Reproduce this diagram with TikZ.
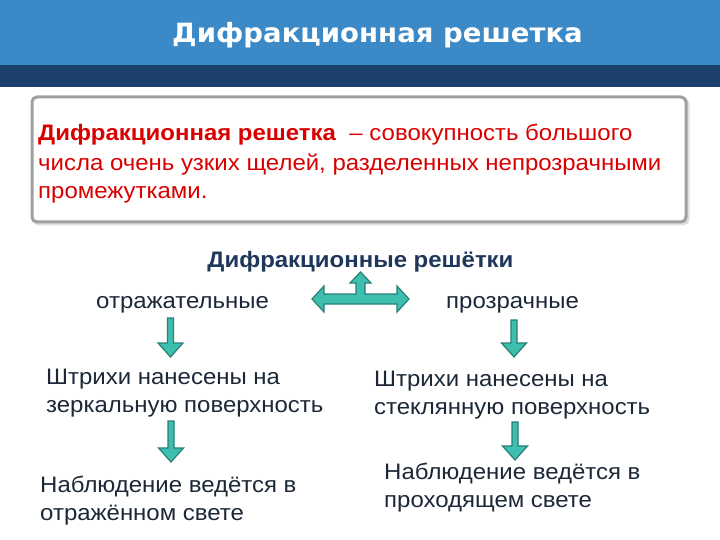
\documentclass[tikz,border=0pt]{standalone}
\usepackage{fontspec}
\setmainfont{Liberation Sans}[FakeStretch=1.07]
\newfontfamily\titlefont{DejaVu Sans}[FakeStretch=1.04]
\usetikzlibrary{positioning}

\definecolor{bandblue}{RGB}{59,137,199}
\definecolor{banddark}{RGB}{26,64,107}
\definecolor{defred}{RGB}{218,0,0}
\definecolor{headblue}{RGB}{30,55,90}
\definecolor{tealfill}{RGB}{62,190,175}
\definecolor{tealline}{RGB}{38,128,118}
\definecolor{textgray}{RGB}{28,40,56}

\tikzset{
  txt/.style={anchor=base west, inner sep=0pt, text=textgray,
    font=\fontsize{22.4}{28}\selectfont, align=left},
  tealarrow/.style={fill=tealfill, draw=tealline, line width=1.2pt, line join=miter}
}

\begin{document}
\begin{tikzpicture}[x=1pt,y=-1pt]
	\useasboundingbox (0,0) rectangle (720,540);

	% header bands
	\fill[bandblue] (0,0) rectangle (720,65);
	\fill[banddark] (0,65) rectangle (720,87);
	\node[text=white, font=\titlefont\bfseries\fontsize{26.5}{30}\selectfont] (title) at (377.5,35) {Дифракционная решетка};

	% definition box
	\draw[black!12, line width=3pt, rounded corners=5pt] (34,99) rectangle (688,224);
	\draw[gray!75, fill=white, line width=3pt, rounded corners=5pt] (32,97) rectangle (686,222);
	\node[txt, text=defred, font=\fontsize{22.4}{29}\selectfont] (defn) at (38,199)
		{\textbf{Дифракционная решетка} \ – совокупность большого\\
		 числа очень узких щелей, разделенных непрозрачными\\
		 промежутками.};

	% kinds of gratings
	\node[anchor=base, inner sep=0pt, text=headblue, font=\bfseries\fontsize{22.4}{26}\selectfont] (kinds) at (360.5,267) {Дифракционные решётки};
	\node[txt] (refl) at (96,308) {отражательные};
	\node[txt] (trans) at (446,308) {прозрачные};

	\draw[tealarrow] (312,299) -- (324,286) -- (324,294) -- (356,294) -- (356,283) -- (350,283)
		-- (360.5,272) -- (371,283) -- (365,283) -- (365,294) -- (397,294) -- (397,286)
		-- (409,299) -- (397,312) -- (397,304) -- (324,304) -- (324,312) -- cycle;

	\foreach \x/\ya/\yb in {170.5/318/357, 514/320/357, 171/421/462, 515/422/460}
	{
		\draw[tealarrow] (\x-3,\ya) -- (\x+3,\ya) -- (\x+3,\yb-14) -- (\x+12.5,\yb-14)
			-- (\x,\yb) -- (\x-12.5,\yb-14) -- (\x-3,\yb-14) -- cycle;
	}

	\node[txt] (reflmark) at (46,412) {Штрихи нанесены на\\зеркальную поверхность};
	\node[txt] (transmark) at (374,414) {Штрихи нанесены на\\стеклянную поверхность};
	\node[txt] (reflobs) at (40,520) {Наблюдение ведётся в\\отражённом свете};
	\node[txt] (transobs) at (384,507) {Наблюдение ведётся в\\проходящем свете};
\end{tikzpicture}
\end{document}
